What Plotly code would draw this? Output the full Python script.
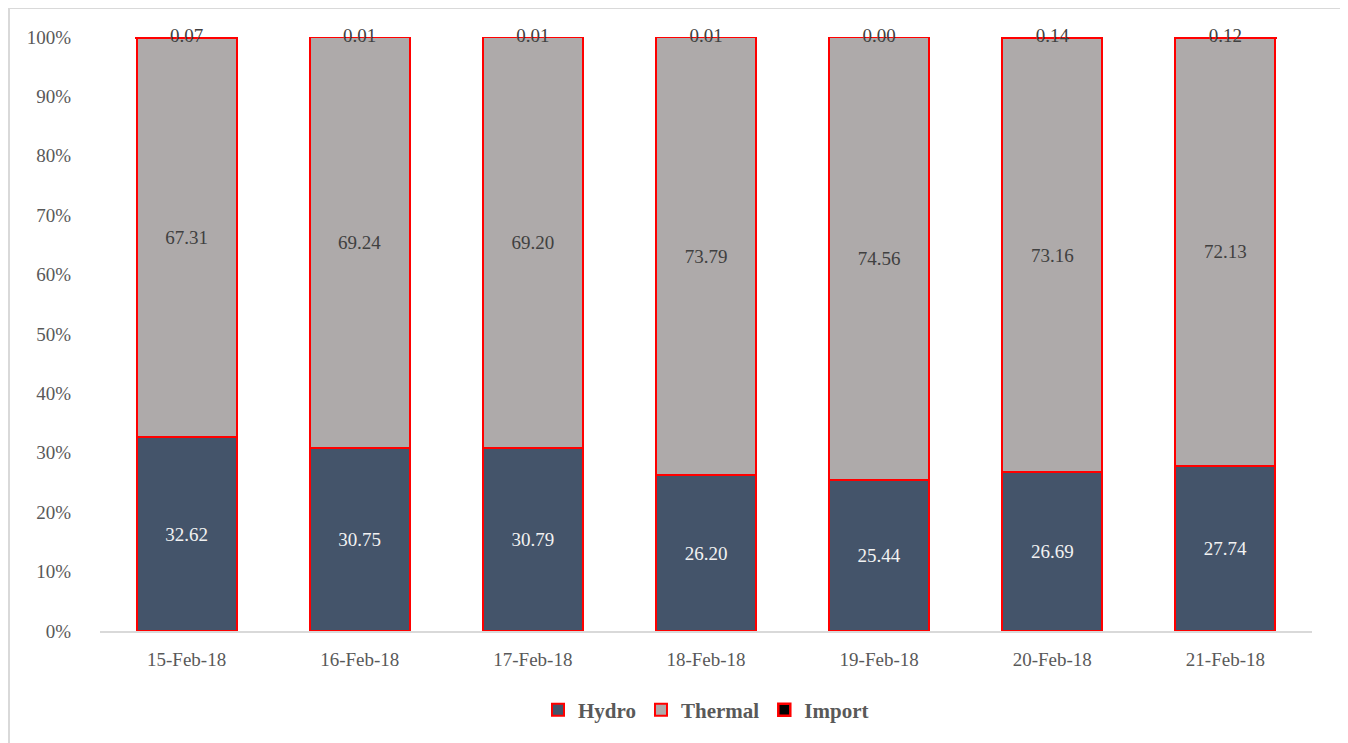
import plotly.graph_objects as go

dates = ["15-Feb-18", "16-Feb-18", "17-Feb-18", "18-Feb-18", "19-Feb-18", "20-Feb-18", "21-Feb-18"]
hydro = [32.62, 30.75, 30.79, 26.20, 25.44, 26.69, 27.74]
thermal = [67.31, 69.24, 69.20, 73.79, 74.56, 73.16, 72.13]
imports = [0.07, 0.01, 0.01, 0.01, 0.00, 0.14, 0.12]

FONT = "Liberation Serif"
line = dict(color="#FF0000", width=2)

fig = go.Figure()
fig.add_trace(go.Bar(
    x=dates, y=hydro, name="Hydro", cliponaxis=False,
    marker=dict(color="#44546A", line=line),
    text=[f"{v:.2f}" for v in hydro], textposition="inside",
    insidetextanchor="middle",
    textfont=dict(family=FONT, size=19, color="#F2F2F2"),
))
fig.add_trace(go.Bar(
    x=dates, y=thermal, name="Thermal", cliponaxis=False,
    marker=dict(color="#AEAAAA", line=line),
    text=[f"{v:.2f}" for v in thermal], textposition="inside",
    insidetextanchor="middle",
    textfont=dict(family=FONT, size=19, color="#404040"),
))
fig.add_trace(go.Bar(
    x=dates, y=imports, name="Import", cliponaxis=False,
    marker=dict(color="#000000", line=dict(color="#FF0000", width=2.5)),
    textposition="none",
))
tops = [round(h + t + i / 2, 4) for h, t, i in zip(hydro, thermal, imports)]
fig.add_trace(go.Scatter(
    x=dates, y=tops, mode="text", showlegend=False,
    text=[f"{v:.2f}" for v in imports], textposition="middle center",
    textfont=dict(family=FONT, size=19, color="#404040"),
    hoverinfo="skip", cliponaxis=False,
))

fig.update_layout(
    barmode="stack",
    bargap=0.423,
    width=1340, height=735,
    margin=dict(l=92, r=36, t=29, b=105),
    paper_bgcolor="white", plot_bgcolor="white",
    font=dict(family=FONT, size=18, color="#595959"),
    xaxis=dict(
        showgrid=False, showline=True, linecolor="#D9D9D9", linewidth=2,
        ticks="", tickfont=dict(family=FONT, size=19, color="#595959"),
        ticklabelstandoff=10,
    ),
    yaxis=dict(
        range=[0, 100], dtick=10, ticksuffix="%", showgrid=False,
        showline=False, zeroline=False, ticks="",
        tickfont=dict(family=FONT, size=19, color="#595959"),
        ticklabelstandoff=28,
    ),
    legend=dict(
        orientation="h", x=0.5, xanchor="center", y=-0.133, yanchor="middle",
        font=dict(family=FONT, size=21, color="#595959", weight="bold"),
        itemwidth=30, traceorder="normal",
    ),
    showlegend=True,
    shapes=[dict(
        type="rect", xref="paper", yref="paper",
        x0=(9 - 100) / 1212, x1=(1341 - 100) / 1212,
        y0=(630 - 760) / 593, y1=(630 - 8) / 593,
        line=dict(color="#D9D9D9", width=2), fillcolor="rgba(0,0,0,0)",
        layer="below",
    )],
)

fig.write_html("out.html")
